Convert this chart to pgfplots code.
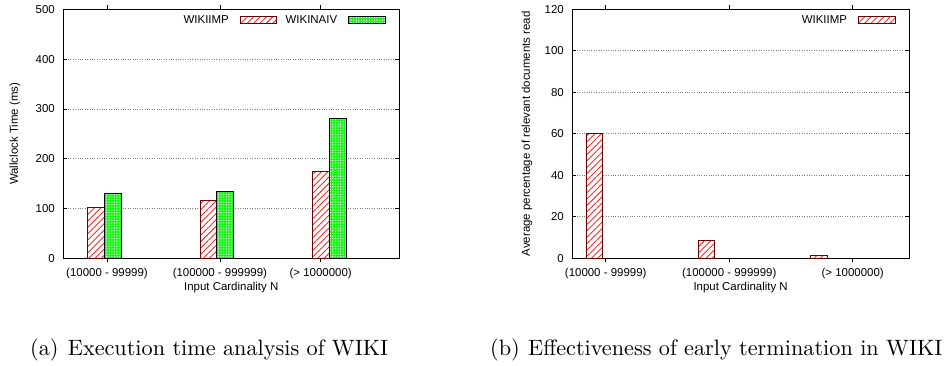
\documentclass[border=0pt]{standalone}
\usepackage{fontspec}
\usepackage{pgfplots}
\pgfplotsset{compat=1.18}
\usetikzlibrary{patterns,patterns.meta}
\newfontfamily\chartfont{Liberation Sans}
\newfontfamily\capfont{lmroman10-regular.otf}
\definecolor{barred}{RGB}{255,40,40}
\definecolor{bargreen}{RGB}{30,240,30}
\definecolor{darkred}{RGB}{110,0,0}

\pgfplotsset{
  gnu/.style={
    scale only axis, anchor=south west, width=335.9bp, height=249bp,
    font=\chartfont\fontsize{11.5}{13}\selectfont,
    /pgf/number format/assume math mode=true,
    ymin=0,
    axis line style={line width=0.9bp},
    tick align=inside, major tick length=4bp,
    tick style={line width=0.6bp, black},
    ymajorgrids, grid style={dotted, gray, line width=0.7bp},
    ybar, bar width=16.7bp,
    yticklabel style={inner sep=0pt, anchor=east, xshift=-8.3bp},
    xticklabel style={inner sep=0pt, anchor=north, yshift=-5.5bp},
    every axis x label/.style={at={(rel axis cs:0.5,0)}, anchor=center, yshift=-29bp},
    legend image code/.code={\draw[##1] (0bp,-3.3bp) rectangle (36.6bp,3.3bp);},
    legend plot pos=right,
    legend style={draw=none, fill=none, inner sep=0pt, outer sep=0pt,
      at={(rel axis cs:1,1)}, anchor=north east, xshift=-13.6bp, yshift=-6bp,
      legend columns=-1, nodes={inner sep=0pt},
      /tikz/every even column/.append style={column sep=8.4bp},
      /tikz/every odd column/.append style={column sep=11bp}},
  },
  redbar/.style={draw=darkred, line width=0.8bp, fill=white,
    postaction={pattern={Lines[angle=45,distance=4.5bp,line width=0.9bp]}, pattern color=barred}},
  greenbar/.style={draw=black, line width=0.8bp, fill=bargreen,
    postaction={pattern={Dots[distance=2.6bp,radius=0.7bp]}, pattern color=white}},
}

\begin{document}
\begin{tikzpicture}
\useasboundingbox (0,0) rectangle (952bp,366bp);

\begin{axis}[gnu, at={(63.3bp,107.7bp)},
  xmin=-0.3644, xmax=2.622, ymax=500, ytick={0,100,200,300,400,500},
  xtick={0.024,1.028,1.924},
  xticklabels={(10000 - 99999),(100000 - 999999),(> 1000000)},
  xlabel={Input Cardinality N},
  ylabel={Wallclock Time (ms)},
  every axis y label/.style={at={(rel axis cs:0,0.5)}, anchor=center, xshift=-48.3bp, rotate=90},
]
\addplot[redbar, bar shift=-8.35bp] coordinates {(0,102) (1,117) (2,175)};
\addlegendentry{WIKIIMP}
\addplot[greenbar, bar shift=8.35bp] coordinates {(0,130) (1,135) (2,281)};
\addlegendentry{WIKINAIV}
\end{axis}

\begin{axis}[gnu, at={(572.3bp,107.7bp)}, width=336.7bp,
  xmin=-0.271, xmax=2.732, ymax=120, ytick={0,20,40,60,80,100,120},
  xtick={0.027,1.129,2.230},
  xticklabels={(10000 - 99999),(100000 - 999999),(> 1000000)},
  xlabel={Input Cardinality N},
  ylabel={Average percentage of relevant documents read},
  every axis y label/.style={at={(rel axis cs:0,0.5)}, anchor=center, xshift=-45.3bp, rotate=90},
]
\addplot[redbar, bar shift=-8.35bp] coordinates {(0,60) (1,8.5) (2,1.5)};
\addlegendentry{WIKIIMP}
\end{axis}

\node[anchor=base west, inner sep=0pt, font=\capfont\fontsize{22.3}{26}\selectfont] at (30bp,11bp) {(a)};
\node[anchor=base west, inner sep=0pt, font=\capfont\fontsize{22.3}{26}\selectfont] at (67.7bp,11bp) {Execution time analysis of WIKI};
\node[anchor=base west, inner sep=0pt, font=\capfont\fontsize{22.3}{26}\selectfont] at (490bp,11bp) {(b)};
\node[anchor=base west, inner sep=0pt, font=\capfont\fontsize{22.3}{26}\selectfont] at (528bp,11bp) {Effectiveness of early termination in WIKI};
\end{tikzpicture}
\end{document}
